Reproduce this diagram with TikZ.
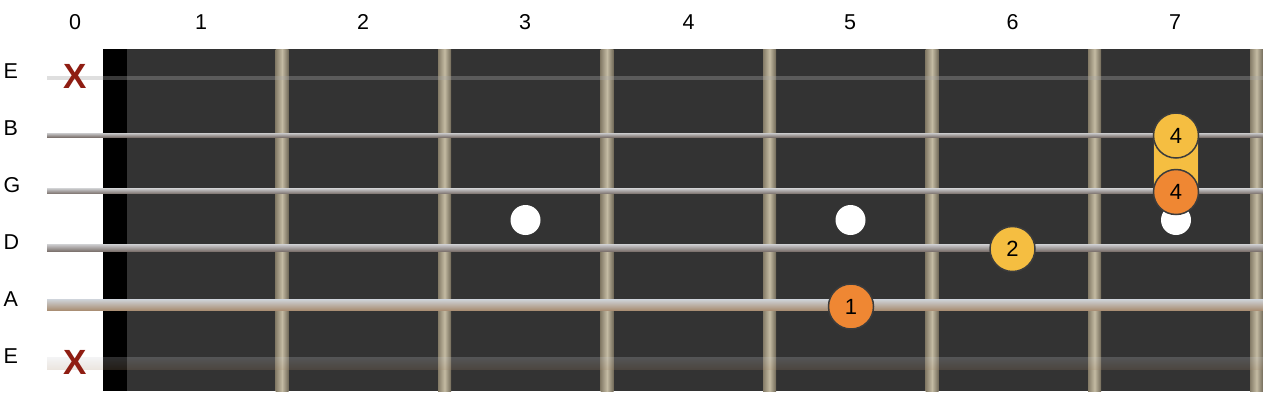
\documentclass[tikz,border=0pt]{standalone}
\usepackage{fontspec}
\setmainfont{Liberation Sans}
\definecolor{board}{HTML}{333333}
\definecolor{fretdark}{HTML}{857C68}
\definecolor{fretlight}{HTML}{C4BBA3}
\definecolor{strtop}{HTML}{CACACC}
\definecolor{strbot}{HTML}{7E7470}
\definecolor{woundtop}{HTML}{CDD1D6}
\definecolor{woundbot}{HTML}{A88C70}
\definecolor{fyellow}{HTML}{F5BE41}
\definecolor{forange}{HTML}{EF8733}
\definecolor{fborder}{HTML}{3C3C3C}
\definecolor{xred}{HTML}{8F1D12}
\tikzset{
  lbl/.style={font=\fontsize{21.5}{22}\selectfont, inner sep=0pt, anchor=base},
  dotmark/.style={circle, fill=white, minimum size=30pt, inner sep=0pt},
  finger/.style={circle, draw=fborder, line width=1.5pt, minimum size=45pt, inner sep=0pt, font=\fontsize{22}{22}\selectfont},
  xmark/.style={font=\fontsize{35}{35}\selectfont\bfseries, text=xred, inner sep=0pt},
}
\begin{document}
\begin{tikzpicture}[x=1pt,y=-1pt]
\useasboundingbox (0,0) rectangle (1263,400);
\fill[white] (0,0) rectangle (1263,400);
% fretboard and nut
\fill[board] (127,49) rectangle (1263,391);
\fill[black] (103,49) rectangle (127,391);
% frets
\foreach \fx in {282,444.5,607,769.5,932,1094.5,1256.5}{
  \shade[left color=fretdark, right color=fretdark!85!black, middle color=fretlight] (\fx-6.5,49) rectangle (\fx+6.5,391);
}
% position dots
\node[dotmark] (d3) at (525.5,220) {};
\node[dotmark] (d5) at (850.5,220) {};
\node[dotmark] (d7) at (1176,220) {};
% strings
\fill[gray!70, opacity=0.35] (47,75.5) rectangle (1263,79.5);
\shade[top color=strtop, bottom color=strbot] (47,133) rectangle (1263,137);
\shade[top color=strtop, bottom color=strbot] (47,188.5) rectangle (1263,193.5);
\shade[top color=strtop, bottom color=strbot] (47,244.5) rectangle (1263,251);
\shade[top color=woundtop, bottom color=woundbot] (47,299.5) rectangle (1263,310.5);
\shade[top color=woundtop, bottom color=woundbot, opacity=0.22] (47,357) rectangle (1263,369);
% barre and fingers
\filldraw[fill=fyellow, draw=fborder, line width=1.5pt] (1153.5,135) rectangle (1198.5,192);
\node[finger, fill=fyellow] (f4a) at (1176,135.5) {4};
\node[finger, fill=forange] (f4b) at (1176,192) {4};
\node[finger, fill=fyellow] (f2) at (1012.5,249) {2};
\node[finger, fill=forange] (f1) at (851,306.5) {1};
% muted marks
\node[xmark] (xhi) at (75.5,76.5) {X};
\node[xmark] (xlo) at (75.5,362) {X};
% fret numbers
\foreach \n/\px in {0/75,1/201,2/363,3/525,4/688.5,5/850,6/1012.5,7/1175}{
  \node[lbl] (fn\n) at (\px,29.3) {\n};
}
% string names
\foreach \s/\sy/\nm in {E/78.3/e1,B/135.4/b,G/192.5/g,D/249.6/d,A/306.7/a,E/363.8/e6}{
  \node[lbl, anchor=base west] (sn\nm) at (3.5,\sy) {\s};
}
\end{tikzpicture}
\end{document}
